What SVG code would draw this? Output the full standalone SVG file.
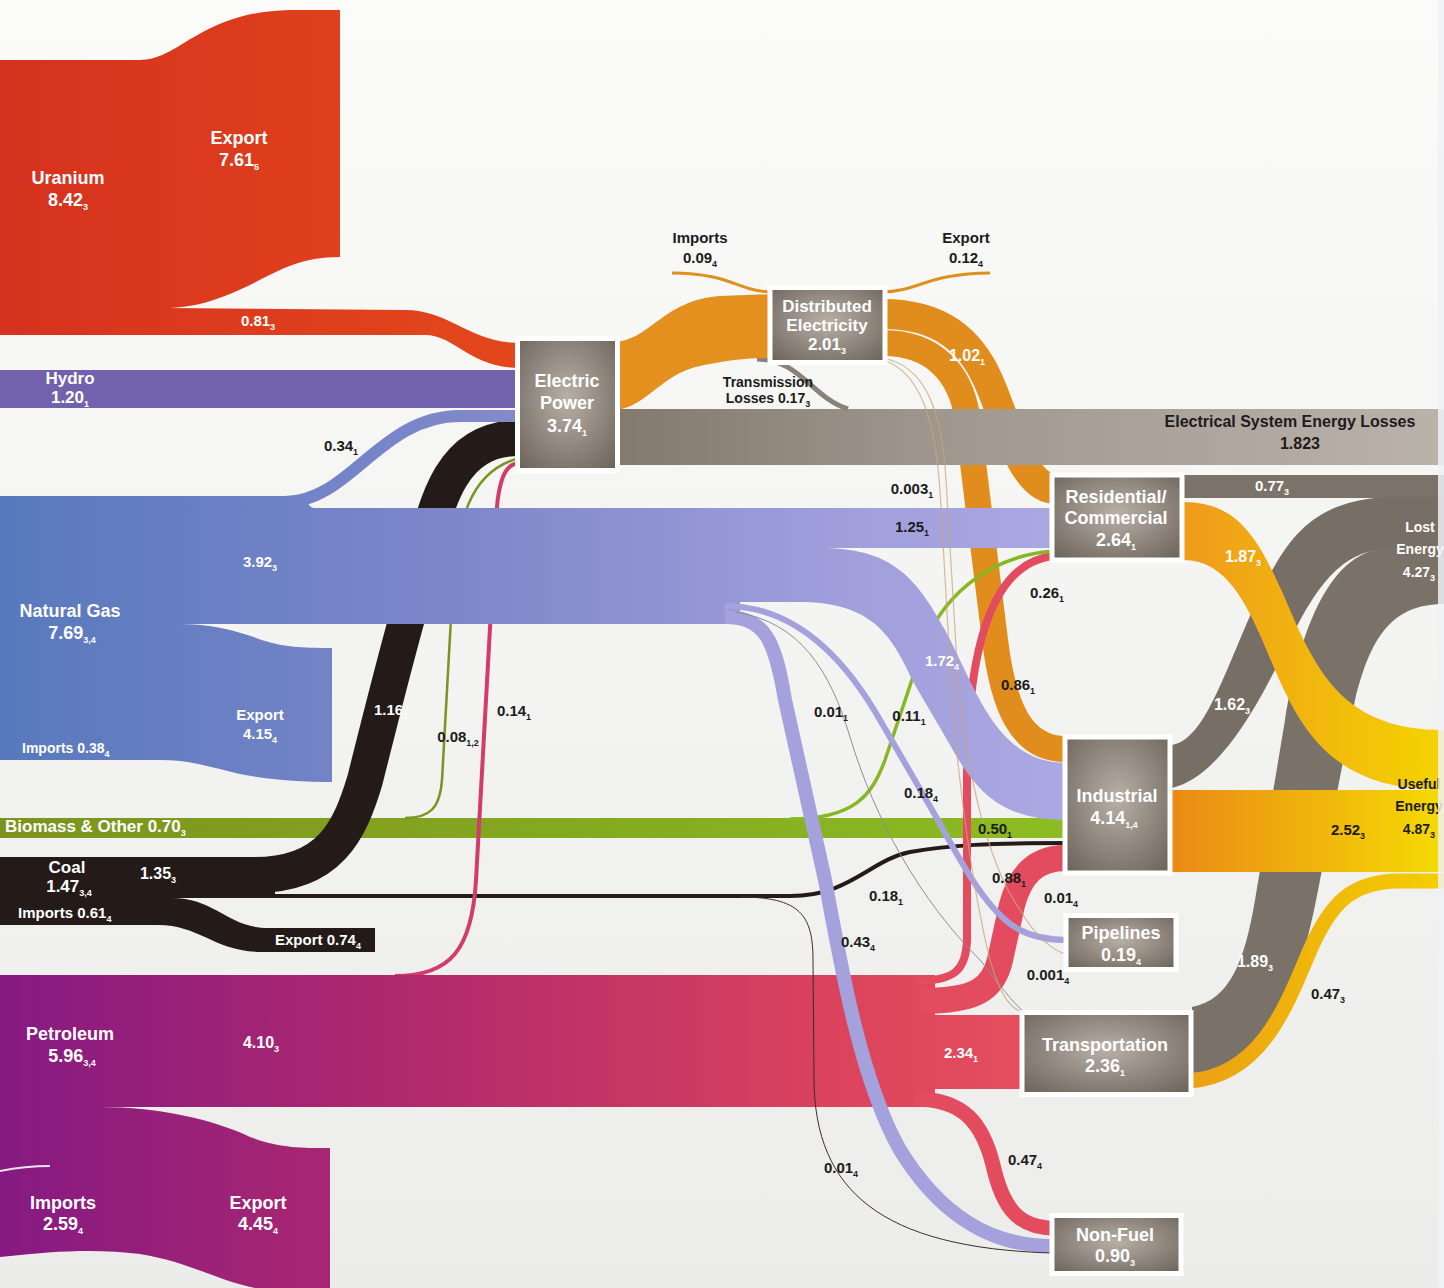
<svg xmlns="http://www.w3.org/2000/svg" width="1444" height="1288" viewBox="0 0 1444 1288">
<defs>
<style>
text{font-family:"Liberation Sans",Arial,sans-serif;font-weight:bold}
.w{fill:#fff}
.d{fill:#1c1c1c}
.n{font-size:18px}
.m{font-size:16px}
.l{font-size:15px}
.c{text-anchor:middle}
.s{font-size:9px}
.box{fill:url(#gNode);stroke:#fff;stroke-width:5}
.f{fill:none;stroke-linecap:butt}
.tan{fill:none;stroke:#c9a67a;stroke-width:1.2;opacity:0.75}
</style>
<linearGradient id="gBg" x1="0" y1="0" x2="0" y2="1"><stop offset="0" stop-color="#fbfbfa"/><stop offset="1" stop-color="#ececea"/></linearGradient>
<linearGradient id="gU" gradientUnits="userSpaceOnUse" x1="0" y1="0" x2="520" y2="0"><stop offset="0" stop-color="#d5321f"/><stop offset="1" stop-color="#e4471b"/></linearGradient>
<linearGradient id="gNG" gradientUnits="userSpaceOnUse" x1="0" y1="0" x2="1070" y2="0"><stop offset="0" stop-color="#5879bd"/><stop offset="0.45" stop-color="#8088cb"/><stop offset="0.8" stop-color="#a19fdc"/><stop offset="1" stop-color="#aba8e2"/></linearGradient>
<linearGradient id="gPet" gradientUnits="userSpaceOnUse" x1="0" y1="0" x2="1060" y2="0"><stop offset="0" stop-color="#861a82"/><stop offset="0.4" stop-color="#b22a6c"/><stop offset="0.8" stop-color="#dc445d"/><stop offset="1" stop-color="#e6505d"/></linearGradient>
<linearGradient id="gBio" gradientUnits="userSpaceOnUse" x1="0" y1="0" x2="1066" y2="0"><stop offset="0" stop-color="#7c931e"/><stop offset="1" stop-color="#8cbc22"/></linearGradient>
<linearGradient id="gLoss" gradientUnits="userSpaceOnUse" x1="617" y1="0" x2="1444" y2="0"><stop offset="0" stop-color="#83796f"/><stop offset="0.4" stop-color="#a0978e"/><stop offset="1" stop-color="#bab3ab"/></linearGradient>
<linearGradient id="gY1" gradientUnits="userSpaceOnUse" x1="1183" y1="0" x2="1444" y2="0"><stop offset="0" stop-color="#ef9a1c"/><stop offset="1" stop-color="#f4d400"/></linearGradient>
<linearGradient id="gY2" gradientUnits="userSpaceOnUse" x1="1172" y1="0" x2="1444" y2="0"><stop offset="0" stop-color="#ea8a15"/><stop offset="1" stop-color="#f5db05"/></linearGradient>
<linearGradient id="gY3" gradientUnits="userSpaceOnUse" x1="1192" y1="0" x2="1444" y2="0"><stop offset="0" stop-color="#eca015"/><stop offset="1" stop-color="#f4cf00"/></linearGradient>
<radialGradient id="gNode" cx="0.5" cy="0.45" r="0.7"><stop offset="0" stop-color="#b8b0a6"/><stop offset="1" stop-color="#6d645b"/></radialGradient>
</defs>

<rect x="0" y="0" width="1444" height="1288" fill="url(#gBg)"/>

<g id="connectors">
  <!-- right side: lost energy (gray) -->
  <rect x="1180" y="475" width="264" height="23" fill="#7b7269"/>
  <path fill="#776e65" d="M1172,745 C1205,740 1225,670 1255,605 C1285,540 1310,500 1390,497 L1444,497 L1444,549 L1390,549 C1340,549 1315,590 1290,640 C1265,690 1225,775 1172,788 Z"/>
  <path fill="#7a7168" d="M1192,1007 C1230,1000 1245,960 1255,900 L1285,720 C1300,630 1330,548 1390,548 L1444,548 L1444,604 C1390,604 1370,640 1355,700 L1320,880 C1305,960 1280,1070 1192,1073 Z"/>
  <!-- right side: useful energy (yellow) -->
  <path fill="url(#gY1)" d="M1183,502 C1240,502 1260,540 1290,610 C1320,680 1350,730 1444,730 L1444,790 C1340,790 1305,740 1275,670 C1250,610 1230,560 1183,560 Z"/>
  <rect x="1170" y="790" width="274" height="82" fill="url(#gY2)"/>
  <path class="f" stroke="url(#gY3)" stroke-width="15" d="M1190,1081 C1260,1075 1285,1010 1310,950 C1330,905 1350,881 1400,881 L1444,881"/>

  <!-- distributed electricity to sectors -->
  <path class="f" stroke="#e18d1d" stroke-width="30" d="M883,314 C940,314 970,340 988,380 C1006,420 1022,489 1056,489"/>
  <path class="f" stroke="#e18d1d" stroke-width="26" d="M883,343 C935,343 960,375 967,415 L995,640 C1003,705 1020,749 1066,749"/>

  <!-- electrical system losses -->
  <rect x="612" y="409" width="832" height="56" fill="url(#gLoss)"/>
  <path class="f" stroke="#8a8178" stroke-width="5" d="M757,359 C800,359 812,398 848,409"/>

  <!-- electric power to distributed electricity -->
  <path fill="#e3901e" d="M612,342 C650,342 662,300 720,296 L772,294 L772,358 C740,358 720,362 700,366 C660,374 645,410 612,410 Z"/>
  <path class="f" stroke="#e0901e" stroke-width="3" d="M672,273 C730,273 740,292 772,292"/>
  <path class="f" stroke="#e0901e" stroke-width="3" d="M883,292 C915,292 930,273 990,273"/>

  <!-- uranium, hydro -->
  <path fill="url(#gU)" d="M0,60 H140 C180,60 200,12 290,10 H340 V257 C300,257 280,270 250,285 C215,302 190,308 165,308 L405,310 C450,310 470,343 520,343 V368 C470,368 455,335 425,335 H0 Z"/>
  <rect x="0" y="370" width="520" height="38" fill="#7262ae"/>

  <!-- biomass -->
  <rect x="0" y="818" width="1066" height="20" fill="url(#gBio)"/>

  <!-- coal -->
  <path fill="#241a18" d="M0,857 H275 V898 H172 C215,898 228,928 268,928 H375 V952 H262 C215,952 200,925 158,925 H0 Z"/>
  <path class="f" stroke="#241a18" stroke-width="36" d="M255,875 C330,875 350,830 365,780 C385,700 400,640 415,590 C435,510 445,438 520,438"/>
  <path class="f" stroke="#241a18" stroke-width="4" d="M200,896 H790 C850,896 870,860 910,852 C950,845 990,843 1066,843"/>
  <path class="f" stroke="#7a9420" stroke-width="2.5" d="M405,818 C430,818 440,808 442,780 L452,600 C456,520 470,470 520,458"/>
  <path class="f" stroke="#d23c6c" stroke-width="4" d="M395,976 C450,976 472,950 476,880 C480,800 492,600 496,520 C498,480 505,463 520,463"/>

  <!-- petroleum -->
  <path fill="url(#gPet)" d="M0,975 H935 V1107 H100 C160,1107 215,1120 250,1137 C280,1148 300,1148 330,1148 V1288 H255 C215,1280 190,1262 140,1254 C100,1249 60,1250 0,1257 Z"/>
  <path fill="none" stroke="#efe4ee" stroke-width="2" d="M0,1171 C15,1168 30,1166 50,1166"/>
  <rect x="930" y="1015" width="95" height="74" fill="url(#gPet)"/>
  <path class="f" stroke="#e24c5e" stroke-width="26" d="M920,1001 C975,1001 993,990 1000,960 L1012,905 C1020,875 1035,858 1066,858"/>
  <path class="f" stroke="#e24c5e" stroke-width="8" d="M915,981 C955,981 966,970 967,940 L967,780 C967,640 995,562 1054,556"/>
  <path class="f" stroke="#e24c5e" stroke-width="15" d="M915,1099 C965,1099 983,1125 993,1165 C1003,1210 1020,1228 1054,1228"/>

  <!-- biomass to residential -->
  <path class="f" stroke="#86b825" stroke-width="3.5" d="M790,819 C855,819 872,795 885,760 L922,650 C940,600 985,556 1054,551"/>

  <!-- natural gas -->
  <path fill="url(#gNG)" d="M0,496 H300 C306,496 308,508 314,508 H740 V624 H178 C215,624 240,632 265,641 C285,647 300,648 332,648 V782 C300,782 270,780 240,774 C210,767 190,760 160,760 H0 Z"/>
  <path class="f" stroke="url(#gNG)" stroke-width="12" d="M285,502 C350,502 380,416 460,416 H522"/>
  <rect x="730" y="508" width="325" height="40" fill="url(#gNG)"/>
  <path fill="url(#gNG)" d="M730,548 H820 C890,548 915,575 945,630 C975,685 995,763 1066,763 V820 C1000,820 975,790 950,745 L915,685 C895,645 880,602 800,602 H730 Z"/>
  <path class="f" stroke="#a4a1dd" stroke-width="14" d="M725,617 C765,617 775,640 785,700 L825,880 C840,960 860,1080 900,1150 C940,1215 990,1246 1052,1246"/>
  <path class="f" stroke="#a4a1dd" stroke-width="6" d="M725,606 C790,606 840,650 880,720 L935,815 C965,870 990,915 1020,930 C1035,938 1050,940 1068,940"/>
  <path class="f" stroke="#8e8e96" stroke-width="1" d="M735,612 C800,622 830,670 850,737 C875,820 920,900 980,960 C1000,985 1012,1002 1024,1012"/>

  <!-- thin lines -->
  <path class="f" stroke="#3a2e2a" stroke-width="1" d="M740,897 C800,897 813,915 813,960 L814,1080 C815,1190 880,1248 1052,1253"/>
  <path class="tan" d="M882,358 C925,365 942,410 946,480 L958,680 C965,760 985,860 1020,910 C1035,935 1050,950 1068,955"/>
  <path class="tan" d="M882,360 C920,370 935,420 940,490 L952,700 C960,800 975,900 990,960 C1000,995 1010,1008 1022,1012"/>
</g>

<g id="node-electric-power"><rect class="box" x="517.5" y="338.5" width="100" height="132"/>
  <text class="w n c" x="567" y="387">Electric</text><text class="w n c" x="567" y="409">Power</text><text class="w n c" x="567" y="432">3.74<tspan class="s" dy="4">1</tspan></text></g>
<g id="node-distributed"><rect class="box" x="770" y="287.5" width="115" height="75"/>
  <text class="w c" font-size="17" x="827" y="312">Distributed</text><text class="w c" font-size="17" x="827" y="331">Electricity</text><text class="w c" font-size="17" x="827" y="350">2.01<tspan class="s" dy="4">3</tspan></text></g>
<g id="node-residential"><rect class="box" x="1052" y="475" width="130" height="85"/>
  <text class="w n c" x="1116" y="503">Residential/</text><text class="w n c" x="1116" y="524">Commercial</text><text class="w n c" x="1116" y="546">2.64<tspan class="s" dy="4">1</tspan></text></g>
<g id="node-industrial"><rect class="box" x="1065" y="737" width="105" height="136"/>
  <text class="w n c" x="1117" y="802">Industrial</text><text class="w n c" x="1114" y="824">4.14<tspan class="s" dy="4">1,4</tspan></text></g>
<g id="node-pipelines"><rect class="box" x="1066" y="915.5" width="110" height="54"/>
  <text class="w n c" x="1121" y="939">Pipelines</text><text class="w n c" x="1121" y="961">0.19<tspan class="s" dy="4">4</tspan></text></g>
<g id="node-transportation"><rect class="box" x="1022" y="1012.5" width="169" height="82"/>
  <text class="w n c" x="1105" y="1051">Transportation</text><text class="w n c" x="1105" y="1072">2.36<tspan class="s" dy="4">1</tspan></text></g>
<g id="node-nonfuel"><rect class="box" x="1052" y="1215.5" width="129" height="58"/>
  <text class="w n c" x="1115" y="1241">Non-Fuel</text><text class="w n c" x="1115" y="1262">0.90<tspan class="s" dy="4">3</tspan></text></g>

<g id="labels">
  <text class="w n c" x="68" y="184">Uranium</text><text class="w n c" x="68" y="206">8.42<tspan class="s" dy="4">3</tspan></text>
  <text class="w n c" x="239" y="144">Export</text><text class="w n c" x="239" y="166">7.61<tspan class="s" dy="4">5</tspan></text>
  <text class="w l c" x="258" y="326">0.81<tspan class="s" dy="4">3</tspan></text>
  <text class="w c" font-size="17" x="70" y="384">Hydro</text><text class="w c" font-size="17" x="70" y="403">1.20<tspan class="s" dy="4">1</tspan></text>
  <text class="d l c" x="341" y="451">0.34<tspan class="s" dy="4">1</tspan></text>
  <text class="d l c" x="700" y="243">Imports</text><text class="d l c" x="700" y="263">0.09<tspan class="s" dy="4">4</tspan></text>
  <text class="d l c" x="966" y="243">Export</text><text class="d l c" x="966" y="263">0.12<tspan class="s" dy="4">4</tspan></text>
  <text class="d c" font-size="14" x="768" y="387">Transmission</text><text class="d c" font-size="14" x="768" y="403">Losses 0.17<tspan class="s" dy="4">3</tspan></text>
  <text class="w m c" x="967" y="361">1.02<tspan class="s" dy="4">1</tspan></text>
  <text class="d m c" x="1290" y="427">Electrical System Energy Losses</text><text class="d m c" x="1300" y="449">1.823</text>
  <text class="d l c" x="912" y="494">0.003<tspan class="s" dy="4">1</tspan></text>
  <text class="w l c" x="1272" y="491">0.77<tspan class="s" dy="4">3</tspan></text>
  <text class="d l c" x="912" y="532">1.25<tspan class="s" dy="4">1</tspan></text>
  <text class="w l c" x="260" y="567">3.92<tspan class="s" dy="4">3</tspan></text>
  <text class="w m c" x="1243" y="562">1.87<tspan class="s" dy="4">3</tspan></text>
  <text class="w c" font-size="14" x="1420" y="532">Lost</text><text class="w c" font-size="14" x="1420" y="554">Energy</text><text class="w c" font-size="14" x="1419" y="577">4.27<tspan class="s" dy="4">3</tspan></text>
  <text class="w n c" x="70" y="617">Natural Gas</text><text class="w n c" x="72" y="639">7.69<tspan class="s" dy="4">3,4</tspan></text>
  <text class="d l c" x="1047" y="598">0.26<tspan class="s" dy="4">1</tspan></text>
  <text class="w l c" x="942" y="666">1.72<tspan class="s" dy="4">4</tspan></text>
  <text class="d l c" x="1018" y="690">0.86<tspan class="s" dy="4">1</tspan></text>
  <text class="w m c" x="1232" y="710">1.62<tspan class="s" dy="4">3</tspan></text>
  <text class="w l c" x="260" y="720">Export</text><text class="w l c" x="260" y="739">4.15<tspan class="s" dy="4">4</tspan></text>
  <text class="w" font-size="14" x="22" y="753">Imports 0.38<tspan class="s" dy="4">4</tspan></text>
  <text class="w l c" x="391" y="715">1.16<tspan class="s" dy="4">1</tspan></text>
  <text class="d l c" x="458" y="742">0.08<tspan class="s" dy="4">1,2</tspan></text>
  <text class="d l c" x="514" y="716">0.14<tspan class="s" dy="4">1</tspan></text>
  <text class="d l c" x="831" y="717">0.01<tspan class="s" dy="4">1</tspan></text>
  <text class="d l c" x="909" y="721">0.11<tspan class="s" dy="4">1</tspan></text>
  <text class="d c" font-size="14" x="1419" y="789">Useful</text><text class="d c" font-size="14" x="1419" y="811">Energy</text><text class="d c" font-size="14" x="1419" y="834">4.87<tspan class="s" dy="4">3</tspan></text>
  <text class="d l c" x="921" y="798">0.18<tspan class="s" dy="4">4</tspan></text>
  <text class="w" font-size="17" x="5" y="832">Biomass &amp; Other 0.70<tspan class="s" dy="4">3</tspan></text>
  <text class="d l c" x="995" y="834">0.50<tspan class="s" dy="4">1</tspan></text>
  <text class="d l c" x="1348" y="835">2.52<tspan class="s" dy="4">3</tspan></text>
  <text class="w c" font-size="17" x="67" y="873">Coal</text><text class="w c" font-size="17" x="69" y="892">1.47<tspan class="s" dy="4">3,4</tspan></text>
  <text class="w m c" x="158" y="879">1.35<tspan class="s" dy="4">3</tspan></text>
  <text class="d l c" x="1009" y="883">0.88<tspan class="s" dy="4">1</tspan></text>
  <text class="w l" x="18" y="918">Imports 0.61<tspan class="s" dy="4">4</tspan></text>
  <text class="d l c" x="886" y="901">0.18<tspan class="s" dy="4">1</tspan></text>
  <text class="d l c" x="1061" y="903">0.01<tspan class="s" dy="4">4</tspan></text>
  <text class="w l" x="275" y="945">Export 0.74<tspan class="s" dy="4">4</tspan></text>
  <text class="d l c" x="858" y="947">0.43<tspan class="s" dy="4">4</tspan></text>
  <text class="w m c" x="1255" y="967">1.89<tspan class="s" dy="4">3</tspan></text>
  <text class="d l c" x="1048" y="980">0.001<tspan class="s" dy="4">4</tspan></text>
  <text class="d l c" x="1328" y="999">0.47<tspan class="s" dy="4">3</tspan></text>
  <text class="w n c" x="70" y="1040">Petroleum</text><text class="w n c" x="72" y="1062">5.96<tspan class="s" dy="4">3,4</tspan></text>
  <text class="w m c" x="261" y="1048">4.10<tspan class="s" dy="4">3</tspan></text>
  <text class="w l c" x="961" y="1058">2.34<tspan class="s" dy="4">1</tspan></text>
  <text class="d l c" x="841" y="1173">0.01<tspan class="s" dy="4">4</tspan></text>
  <text class="d l c" x="1025" y="1165">0.47<tspan class="s" dy="4">4</tspan></text>
  <text class="w n c" x="63" y="1209">Imports</text><text class="w n c" x="63" y="1230">2.59<tspan class="s" dy="4">4</tspan></text>
  <text class="w n c" x="258" y="1209">Export</text><text class="w n c" x="258" y="1230">4.45<tspan class="s" dy="4">4</tspan></text>
</g>
<rect x="1438" y="0" width="6" height="1288" fill="#eef1f4" opacity="0.85"/>
</svg>
